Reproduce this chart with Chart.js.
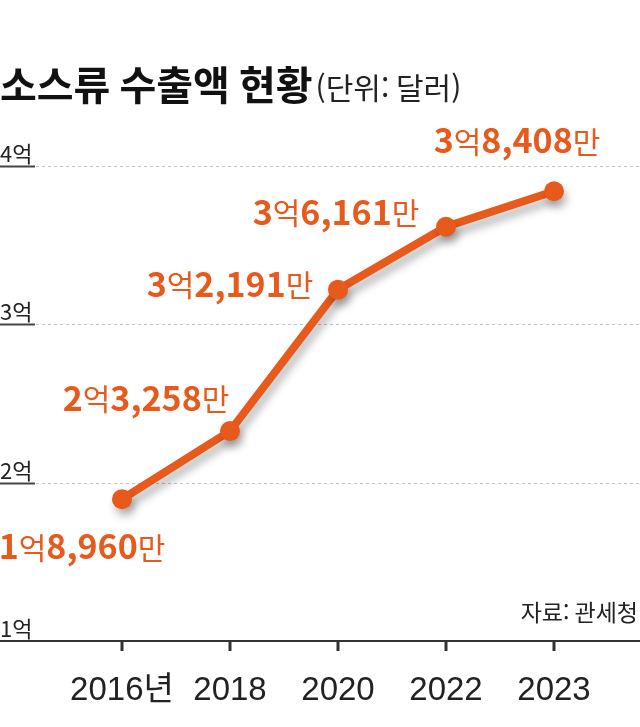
<!DOCTYPE html>
<html lang="ko">
<head>
<meta charset="UTF-8">
<title>소스류 수출액 현황</title>
<script src="https://cdn.jsdelivr.net/npm/chart.js"></script>
<style>
    body { margin: 0; background: #fff; }
    canvas { display: block; }
</style>
</head>
<body>
<canvas id="chart" width="640" height="727"></canvas>
<script>
    // data (values in 만 달러)
    const years = ["2016년", "2018", "2020", "2022", "2023"];
    const exportsMan = [18960, 23258, 32191, 36161, 38408];
    const yTicks = [1, 2, 3, 4];

    // label placement relative to each point: center dx, center dy
    const labelOffsets = [[-40, 47], [-84, -33], [-108, -6], [-110, -15], [-37, -51]];

    const ORANGE = "#e8591c";
    const KFONT = '"Noto Sans CJK KR", "Noto Sans", sans-serif';

    function segs(v) {
        const eok = Math.floor(v / 10000);
        const man = (v % 10000).toLocaleString("en-US");
        return [[String(eok), true], ["억", false], [man, true], ["만", false]];
    }

    const decor = {
        id: "decor",
        beforeDatasetsDraw(chart) {
            const ctx = chart.ctx;
            const y = chart.scales.y, x = chart.scales.x;
            ctx.save();
            // title
            ctx.fillStyle = "#111";
            ctx.textBaseline = "alphabetic";
            ctx.font = "bold 40px " + KFONT;
            ctx.fillText("소스류 수출액 현황", 0, 100);
            const tw = ctx.measureText("소스류 수출액 현황").width;
            ctx.font = "30px " + KFONT;
            ctx.fillStyle = "#222";
            ctx.fillText("(단위: 달러)", tw + 3, 99);

            // y grid + labels
            yTicks.forEach(v => {
                const py = Math.round(y.getPixelForValue(v)) + 0.5;
                ctx.font = "22px " + KFONT;
                ctx.fillStyle = "#222";
                ctx.fillText(v + "억", 0, py - 5);
                if (v > yTicks[0]) {
                    ctx.strokeStyle = "#444";
                    ctx.lineWidth = 2;
                    ctx.setLineDash([]);
                    ctx.beginPath(); ctx.moveTo(0, py); ctx.lineTo(35, py); ctx.stroke();
                    ctx.strokeStyle = "#c4c4c4";
                    ctx.lineWidth = 1;
                    ctx.setLineDash([3, 3]);
                    ctx.beginPath(); ctx.moveTo(36, py); ctx.lineTo(640, py); ctx.stroke();
                }
            });
            ctx.setLineDash([]);
            // x axis line + ticks
            const base = Math.round(y.getPixelForValue(yTicks[0]));
            ctx.strokeStyle = "#333";
            ctx.lineWidth = 2;
            ctx.beginPath(); ctx.moveTo(0, base); ctx.lineTo(640, base); ctx.stroke();
            ctx.lineWidth = 3;
            years.forEach((_, i) => {
                const px = x.getPixelForValue(i);
                ctx.beginPath(); ctx.moveTo(px, base); ctx.lineTo(px, base + 10); ctx.stroke();
            });

            // source
            ctx.font = "23px " + KFONT;
            ctx.fillStyle = "#222";
            ctx.textAlign = "right";
            ctx.fillText("자료: 관세청", 638, 621);
            ctx.restore();

            // shadow for the line
            ctx.save();
            ctx.shadowColor = "rgba(0,0,0,0.28)";
            ctx.shadowBlur = 9;
            ctx.shadowOffsetX = 3;
            ctx.shadowOffsetY = 7;
        },
        afterDatasetsDraw(chart) {
            const ctx = chart.ctx;
            ctx.restore();
            const meta = chart.getDatasetMeta(0);
            ctx.save();
            ctx.fillStyle = ORANGE;
            ctx.textBaseline = "middle";
            meta.data.forEach((pt, i) => {
                const parts = segs(exportsMan[i]);
                const fonts = parts.map(p => p[1] ? "bold 34px " + KFONT : "30px " + KFONT);
                let total = 0;
                parts.forEach((p, k) => { ctx.font = fonts[k]; total += ctx.measureText(p[0]).width; });
                let cx = pt.x + labelOffsets[i][0] - total / 2;
                const cy = pt.y + labelOffsets[i][1];
                parts.forEach((p, k) => {
                    ctx.font = fonts[k];
                    ctx.fillText(p[0], cx, cy + (p[1] ? 0 : 1));
                    cx += ctx.measureText(p[0]).width;
                });
            });
            ctx.restore();
        }
    };

    new Chart(document.getElementById("chart"), {
        type: "line",
        data: {
            labels: years,
            datasets: [{
                data: exportsMan.map(v => v / 10000),
                borderColor: ORANGE,
                backgroundColor: ORANGE,
                borderWidth: 8,
                pointRadius: 10,
                pointBorderWidth: 0,
                pointBackgroundColor: ORANGE,
                tension: 0
            }]
        },
        options: {
            responsive: false,
            animation: false,
            layout: { padding: { top: 166, left: 68, right: 32, bottom: 0 } },
            plugins: { legend: { display: false }, tooltip: { enabled: false } },
            scales: {
                x: {
                    offset: true,
                    grid: { display: false, drawTicks: false },
                    border: { display: false },
                    ticks: {
                        color: "#222",
                        padding: 30,
                        autoSkip: false,
                        maxRotation: 0,
                        font: { family: '"Liberation Sans", ' + KFONT, size: 33 }
                    },
                    afterFit: s => { s.height = 86; }
                },
                y: { display: false, min: 1, max: 4 }
            }
        },
        plugins: [decor]
    });
</script>
</body>
</html>
